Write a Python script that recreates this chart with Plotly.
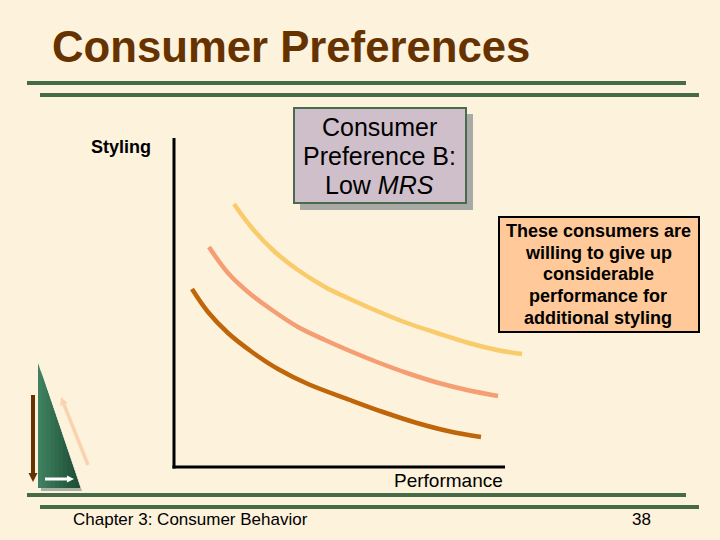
import plotly.graph_objects as go

# ── Data ───────────────────────────────────────────────
# x = performance, y = styling
top_x = [60, 78, 101, 124, 151, 176, 203, 233, 263, 293, 323, 348]
top_y = [263, 239, 215, 197, 180, 168, 156, 144, 134, 124.5, 117, 113]
mid_x = [35, 54, 74, 98, 124, 151, 176, 203, 233, 263, 293, 324]
mid_y = [220, 194, 175, 157, 140, 127, 116, 105, 94, 84.5, 77, 71]
low_x = [18, 34, 54, 78, 104, 134, 176, 209, 243, 276, 307]
low_y = [178, 155, 134, 115, 98, 83, 67, 55, 44, 35.5, 30]

curve_colors = ["#F9CB6B", "#F59E74", "#BF660A"]

axis_x_end = 331
axis_y_end = 329

title_text = "Consumer Preferences"
box_lines = ["Consumer", "Preference B:", "Low <i>MRS</i>"]
note_lines = ["These consumers are", "willing to give up", "considerable",
              "performance for", "additional styling"]

BG = "#FDF2DC"
GREEN = "#476B47"
W, H = 720, 540


def px(x):
    return x / W


def py(y):
    return 1 - y / H


def rule(x0, x1, y):
    return dict(type="line", xref="paper", yref="paper", x0=px(x0), x1=px(x1),
                y0=py(y), y1=py(y), line=dict(color=GREEN, width=4))


def box(x0, y0, x1, y1, fill, line=None, width=2):
    return dict(type="rect", xref="paper", yref="paper", x0=px(x0), x1=px(x1),
                y0=py(y0), y1=py(y1), fillcolor=fill,
                line=dict(color=line or fill, width=width if line else 0))


def poly(points, fill):
    path = "M " + " L ".join(f"{px(x)},{py(y)}" for x, y in points) + " Z"
    return dict(type="path", xref="paper", yref="paper", path=path,
                fillcolor=fill, line=dict(width=0))


def label(x, y, text, size, color="black"):
    return dict(xref="paper", yref="paper", x=px(x), y=py(y), text=text,
                showarrow=False, xanchor="center", yanchor="middle",
                align="center", font=dict(size=size, color=color))


def arrow(x0, y0, x1, y1, color, width, head):
    # line plus a small head pointing at x1,y1
    dx, dy = x1 - x0, y1 - y0
    n = (dx ** 2 + dy ** 2) ** 0.5
    ux, uy = dx / n, dy / n
    bx, by = x1 - ux * head * 2, y1 - uy * head * 2
    return [
        dict(type="line", xref="paper", yref="paper", x0=px(x0), y0=py(y0),
             x1=px(bx), y1=py(by), line=dict(color=color, width=width)),
        poly([(x1, y1), (bx - uy * head, by + ux * head), (bx + uy * head, by - ux * head)], color),
    ]


def logo():
    # green triangle, shaded left to right in steps
    steps = ["#3F8060", "#3B7B5C", "#377557", "#337052", "#2F6A4D", "#2B6548",
             "#285F44", "#24593F", "#21543B", "#1E4F37"]
    x0, x1, top, bottom = 38, 80, 363, 488
    out = [poly([(41, 371), (82, 491), (41, 491)], "#ABB0A4")]
    for i, c in enumerate(steps):
        left = x0 + (x1 - x0) * i / len(steps)
        hyp = top + (bottom - top) * (left - x0) / (x1 - x0)
        out.append(poly([(left, hyp), (x1, bottom), (left, bottom)], c))
    return out


# ── Figure ─────────────────────────────────────────────
fig = go.Figure()
for xs, ys, c in zip([top_x, mid_x, low_x], [top_y, mid_y, low_y], curve_colors):
    fig.add_trace(go.Scatter(x=xs, y=ys, mode="lines",
                             line=dict(color=c, width=4.5, shape="spline"),
                             hoverinfo="skip", showlegend=False))

shapes = [
    rule(27, 686, 83), rule(40, 699, 95), rule(27, 686, 495), rule(40, 699, 507),
    box(300, 114, 473, 210, "#A9A9A6"),
    box(294, 108, 466, 203, "#CFBFCB", "#4A6B50"),
    box(499, 217, 699, 332, "#FFC999", "black"),
    # axis lines stop short of the plot area, the top curve runs past them
    dict(type="line", xref="x", yref="y", x0=0, x1=0, y0=-1.5, y1=axis_y_end,
         line=dict(color="black", width=3)),
    dict(type="line", xref="x", yref="y", x0=-1.5, x1=axis_x_end, y0=0, y1=0,
         line=dict(color="black", width=3)),
]
shapes += logo()
shapes += arrow(33, 395, 33, 482, "#663300", 4, 4.5)
shapes += arrow(88, 465, 61, 397, "#F9D3B0", 3.5, 4)
shapes += arrow(45, 479, 74, 479, "white", 3, 3.5)

annotations = [
    label(291, 47, f"<b>{title_text}</b>", 43.7, "#663300"),
    label(121, 147, "<b>Styling</b>", 18),
    label(448, 480.5, "Performance", 19),
    label(190, 519, "Chapter 3: Consumer Behavior", 17),
    label(641, 519, "38", 17),
]
for text, y in zip(box_lines, [127, 156, 185]):
    annotations.append(label(379, y, text, 25))
for text, y in zip(note_lines, [231, 253, 274, 296, 318]):
    annotations.append(label(598, y, f"<b>{text}</b>", 18))

fig.update_layout(
    width=W, height=H, margin=dict(l=0, r=0, t=0, b=0),
    paper_bgcolor=BG, plot_bgcolor="rgba(0,0,0,0)",
    font=dict(family="Liberation Sans", color="black"),
    shapes=shapes, annotations=annotations,
    # ranges start below zero so the axis shapes are not clipped in half
    xaxis=dict(domain=[170 / W, 530 / W], range=[-4, 356], visible=False),
    yaxis=dict(domain=[1 - 471 / H, 1 - 134 / H], range=[-4, axis_y_end + 4], visible=False),
)

fig.write_html("out.html", config=dict(displayModeBar=False),
               post_script="document.body.style.margin='0';")
